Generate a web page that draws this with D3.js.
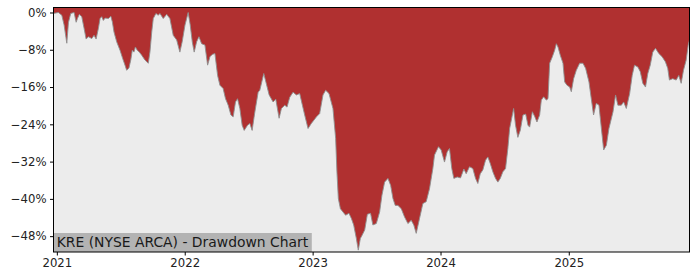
<!DOCTYPE html>
<html>
<head>
<meta charset="utf-8">
<script src="https://cdn.jsdelivr.net/npm/d3@7/dist/d3.min.js"></script>
<style>
  html, body { margin: 0; padding: 0; background: #fff; }
  svg { display: block; font-family: "DejaVu Sans", sans-serif; }
</style>
</head>
<body>
<svg id="chart" width="700" height="280"></svg>
<script>
// Dates as decimal years, drawdown in percent
const dates = [
  2020.974, 2021.012, 2021.039, 2021.057, 2021.078, 2021.091, 2021.109, 2021.135, 2021.151, 2021.161,
  2021.176, 2021.195, 2021.213, 2021.229, 2021.247, 2021.273, 2021.291, 2021.307, 2021.325, 2021.338,
  2021.351, 2021.364, 2021.377, 2021.403, 2021.422, 2021.434, 2021.447, 2021.468, 2021.494, 2021.515,
  2021.533, 2021.546, 2021.564, 2021.578, 2021.590, 2021.603, 2021.614, 2021.629, 2021.645, 2021.664,
  2021.689, 2021.715, 2021.728, 2021.742, 2021.754, 2021.775, 2021.793, 2021.806, 2021.832, 2021.859,
  2021.884, 2021.910, 2021.937, 2021.962, 2021.980, 2022.002, 2022.027, 2022.043, 2022.059, 2022.074,
  2022.093, 2022.111, 2022.132, 2022.158, 2022.179, 2022.197, 2022.215, 2022.236, 2022.257, 2022.275,
  2022.300, 2022.319, 2022.340, 2022.361, 2022.379, 2022.397, 2022.413, 2022.431, 2022.449, 2022.465,
  2022.491, 2022.509, 2022.527, 2022.548, 2022.574, 2022.587, 2022.618, 2022.639, 2022.660, 2022.691,
  2022.712, 2022.738, 2022.756, 2022.782, 2022.800, 2022.821, 2022.847, 2022.873, 2022.899, 2022.920,
  2022.938, 2022.964, 2022.990, 2023.030, 2023.055, 2023.081, 2023.102, 2023.128, 2023.159, 2023.180,
  2023.190, 2023.201, 2023.217, 2023.237, 2023.258, 2023.284, 2023.303, 2023.321, 2023.342, 2023.357,
  2023.373, 2023.383, 2023.407, 2023.428, 2023.453, 2023.471, 2023.498, 2023.524, 2023.542, 2023.563,
  2023.589, 2023.610, 2023.628, 2023.646, 2023.667, 2023.693, 2023.719, 2023.745, 2023.771, 2023.791,
  2023.810, 2023.836, 2023.862, 2023.888, 2023.914, 2023.940, 2023.953, 2023.984, 2024.005, 2024.031,
  2024.052, 2024.070, 2024.088, 2024.104, 2024.130, 2024.156, 2024.182, 2024.200, 2024.226, 2024.252,
  2024.273, 2024.291, 2024.310, 2024.330, 2024.351, 2024.369, 2024.388, 2024.408, 2024.429, 2024.447,
  2024.466, 2024.486, 2024.507, 2024.525, 2024.539, 2024.560, 2024.570, 2024.585, 2024.603, 2024.622,
  2024.643, 2024.664, 2024.682, 2024.695, 2024.716, 2024.734, 2024.752, 2024.773, 2024.786, 2024.804,
  2024.825, 2024.838, 2024.851, 2024.872, 2024.890, 2024.903, 2024.916, 2024.934, 2024.955, 2024.968,
  2024.986, 2025.007, 2025.020, 2025.038, 2025.059, 2025.085, 2025.111, 2025.132, 2025.158, 2025.176,
  2025.194, 2025.215, 2025.236, 2025.255, 2025.273, 2025.294, 2025.314, 2025.346, 2025.366, 2025.384,
  2025.411, 2025.429, 2025.450, 2025.476, 2025.496, 2025.514, 2025.540, 2025.559, 2025.579, 2025.600,
  2025.618, 2025.637, 2025.657, 2025.678, 2025.704, 2025.730, 2025.756, 2025.774, 2025.787, 2025.813,
  2025.840, 2025.860, 2025.879, 2025.897, 2025.918, 2025.934, 2025.944
];
const drawdown = [
  -0.2, 0.0, -0.6, -2.7, -6.6, -2.1, -0.2, 0.0, -2.1, -1.3,
  -0.4, -0.9, -3.4, -5.7, -5.2, -5.6, -4.9, -5.7, -3.4, -1.3,
  -0.9, -1.7, -1.2, -1.3, -0.8, -2.0, -4.2, -6.3, -8.1, -9.9,
  -11.3, -12.4, -11.9, -10.2, -8.1, -8.5, -7.4, -8.1, -8.5, -9.2,
  -10.2, -10.9, -8.5, -4.2, -1.3, -0.2, -0.6, -0.2, -1.3, -0.4,
  -1.3, -4.9, -5.9, -8.5, -6.3, -2.7, 0.0, -2.7, -6.3, -8.5,
  -6.3, -5.2, -6.7, -7.0, -11.3, -9.5, -9.0, -8.8, -13.5, -15.6,
  -16.3, -18.5, -19.9, -22.0, -22.4, -19.2, -18.5, -20.6, -24.2, -25.3,
  -24.2, -23.8, -25.3, -21.4, -17.1, -16.7, -13.1, -15.4, -17.7, -19.2,
  -18.6, -22.7, -20.6, -19.9, -20.3, -18.2, -17.1, -17.7, -17.4, -19.9,
  -22.0, -24.9, -23.8, -22.4, -21.7, -17.7, -16.7, -17.4, -20.6, -27.0,
  -34.2, -39.9, -42.1, -42.8, -43.5, -43.1, -44.2, -45.6, -48.5, -51.0,
  -48.5, -48.0, -46.7, -43.3, -43.1, -45.6, -45.3, -42.8, -39.2, -36.4,
  -35.6, -37.1, -39.9, -41.4, -41.4, -42.1, -43.9, -45.3, -44.6, -45.6,
  -47.4, -44.2, -41.0, -40.6, -37.8, -33.5, -30.6, -28.8, -29.5, -32.1,
  -29.9, -29.2, -33.5, -35.6, -35.3, -35.5, -33.6, -34.6, -33.1, -33.5,
  -35.6, -36.7, -34.6, -33.8, -31.7, -31.0, -32.4, -34.2, -35.6, -36.4,
  -35.6, -34.2, -33.5, -29.2, -24.9, -22.0, -20.6, -24.2, -26.8, -25.3,
  -22.0, -21.8, -24.2, -24.6, -21.3, -22.3, -23.5, -22.0, -18.8, -18.1,
  -18.8, -18.5, -10.9, -9.5, -8.1, -6.7, -7.4, -9.2, -10.9, -14.9,
  -15.6, -16.0, -17.0, -14.2, -12.4, -10.9, -10.9, -12.0, -14.9, -18.5,
  -22.0, -19.5, -19.9, -24.9, -29.5, -28.5, -24.9, -21.3, -17.7, -19.9,
  -19.9, -19.2, -20.6, -17.4, -13.5, -11.3, -11.7, -12.7, -15.2, -16.0,
  -13.1, -11.3, -8.5, -7.7, -8.8, -9.5, -10.6, -12.0, -14.5, -14.2,
  -14.5, -13.5, -15.2, -12.4, -10.2, -7.0, -5.9
];
const yTicks = [0, -8, -16, -24, -32, -40, -48];
const xTickYears = [2021, 2022, 2023, 2024, 2025];
const chartLabel = "KRE (NYSE ARCA) - Drawdown Chart";

function yearToDate(y) {
  const yr = Math.floor(y);
  const s = Date.UTC(yr, 0, 1), e = Date.UTC(yr + 1, 0, 1);
  return new Date(s + (y - yr) * (e - s));
}

const data = dates.map((d, i) => ({ date: yearToDate(d), value: drawdown[i] }));

const W = 700, H = 280;
const margin = { top: 7.5, right: 10.5, bottom: 28, left: 53.5 };
const iw = W - margin.left - margin.right;
const ih = H - margin.top - margin.bottom;

const svg = d3.select("#chart");
const g = svg.append("g").attr("transform", `translate(${margin.left},${margin.top})`);

const x = d3.scaleUtc()
  .domain(d3.extent(data, d => d.date))
  .range([0, iw]);
const y = d3.scaleLinear()
  .domain([1.07, -51.4])
  .range([0, ih]);

g.append("rect")
  .attr("x", 0).attr("y", 0).attr("width", iw).attr("height", ih)
  .attr("fill", "#ececec");

const clip = svg.append("defs").append("clipPath").attr("id", "clip");
clip.append("rect").attr("x", 0).attr("y", 0).attr("width", iw).attr("height", ih);

const area = d3.area()
  .x(d => x(d.date))
  .y0(0)
  .y1(d => y(d.value));
const line = d3.line()
  .x(d => x(d.date))
  .y(d => y(d.value));

const plot = g.append("g").attr("clip-path", "url(#clip)");
plot.append("path").datum(data)
  .attr("d", area)
  .attr("fill", "#b03030");
plot.append("path").datum(data)
  .attr("d", line)
  .attr("fill", "none")
  .attr("stroke", "#8f8f8f")
  .attr("stroke-width", 0.9);

// label box
const labelG = g.append("g");
const labelText = labelG.append("text")
  .attr("x", 3.2)
  .attr("y", ih - 5)
  .attr("font-size", "13.9px")
  .attr("fill", "#1a1a1a")
  .text(chartLabel);
const bb = labelText.node().getBBox();
labelG.insert("rect", "text")
  .attr("x", 0)
  .attr("y", ih - 19)
  .attr("width", bb.x + bb.width + 3)
  .attr("height", 19)
  .attr("fill", "#b3b3b3");

// frame
g.append("rect")
  .attr("x", 0).attr("y", 0).attr("width", iw).attr("height", ih)
  .attr("fill", "none").attr("stroke", "#000").attr("stroke-width", 1);

// axes
const fmtY = v => (v < 0 ? "\u2212" + Math.abs(v) : String(v)) + "%";
const yAxis = d3.axisLeft(y).tickValues(yTicks).tickFormat(fmtY).tickSize(3.5).tickPadding(3.5);
const xAxis = d3.axisBottom(x)
  .tickValues(xTickYears.map(yy => new Date(Date.UTC(yy, 0, 1))))
  .tickFormat(d3.utcFormat("%Y")).tickSize(3.5).tickPadding(3.5);

const ya = g.append("g").call(yAxis);
const xa = g.append("g").attr("transform", `translate(0,${ih})`).call(xAxis);
[ya, xa].forEach(a => {
  a.select(".domain").remove();
  a.selectAll("text").attr("font-size", "11.7px").attr("fill", "#222").attr("font-family", "DejaVu Sans");
  a.selectAll("line").attr("stroke", "#000");
});
</script>
</body>
</html>
